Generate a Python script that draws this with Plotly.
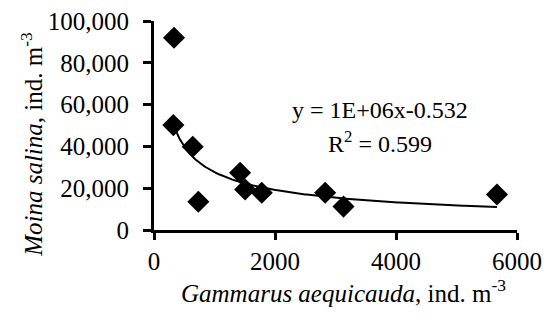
import numpy as np
import plotly.graph_objects as go

# Data
gammarus = [331, 320, 640, 733, 1423, 1506, 1781, 2829, 3132, 5669]
moina = [92000, 50200, 39800, 13500, 27400, 19400, 17800, 17800, 11200, 17000]

# Power trend line y = a * x^b fitted to the data
lx = np.log(gammarus)
ly = np.log(moina)
b, loga = np.polyfit(lx, ly, 1)
a = np.exp(loga)
xt = np.linspace(min(gammarus), max(gammarus), 200)
yt = a * xt ** b

eq_text = "y = 1E+06x-0.532"
r2_text = "R<sup>2</sup> = 0.599"
x_title = "<i>Gammarus aequicauda</i>, ind. m<sup>-3</sup>"
y_title = "<i>Moina salina</i>, ind. m<sup>-3</sup>"

x_ticks = [0, 2000, 4000, 6000]
y_ticks = [0, 20000, 40000, 60000, 80000, 100000]

font = "Liberation Serif, Times New Roman, serif"

fig = go.Figure()
fig.add_trace(go.Scatter(x=xt, y=yt, mode="lines",
                         line=dict(color="black", width=2), showlegend=False, hoverinfo="skip"))
fig.add_trace(go.Scatter(x=gammarus, y=moina, mode="markers",
                         marker=dict(symbol="diamond", size=17, color="black"),
                         showlegend=False, cliponaxis=False))

fig.add_annotation(x=3740, y=57300, text=eq_text, showarrow=False,
                   font=dict(family=font, size=24, color="black"))
fig.add_annotation(x=3740, y=42200, text=r2_text, showarrow=False,
                   font=dict(family=font, size=24, color="black"))

# axis titles as annotations for exact placement
fig.add_annotation(xref="paper", yref="paper", x=0.521, y=-0.29, text=x_title,
                   showarrow=False, xanchor="center", yanchor="middle",
                   font=dict(family=font, size=25, color="black"))
fig.add_annotation(xref="paper", yref="paper", x=-0.338, y=0.409, text=y_title,
                   showarrow=False, xanchor="center", yanchor="middle", textangle=-90,
                   font=dict(family=font, size=25, color="black"))

fig.update_layout(
    width=550, height=323,
    margin=dict(l=154, r=33, t=21, b=93),
    paper_bgcolor="white", plot_bgcolor="white",
    font=dict(family=font, size=25, color="black"),
    xaxis=dict(range=[0, 6000], tickvals=x_ticks, tickformat="d", automargin=False,
               showline=True, linecolor="black", linewidth=3,
               ticks="outside", tickwidth=3, ticklen=7, tickcolor="black",
               ticklabelstandoff=0,
               showgrid=False, zeroline=False),
    yaxis=dict(range=[0, 100000], tickvals=y_ticks, tickformat=",", automargin=False,
               showline=True, linecolor="black", linewidth=3,
               ticks="outside", tickwidth=3, ticklen=8, tickcolor="black",
               ticklabelstandoff=9,
               showgrid=False, zeroline=False),
)

fig.write_html("out.html", config={"displayModeBar": False},
               post_script="document.body.style.margin='0';")
